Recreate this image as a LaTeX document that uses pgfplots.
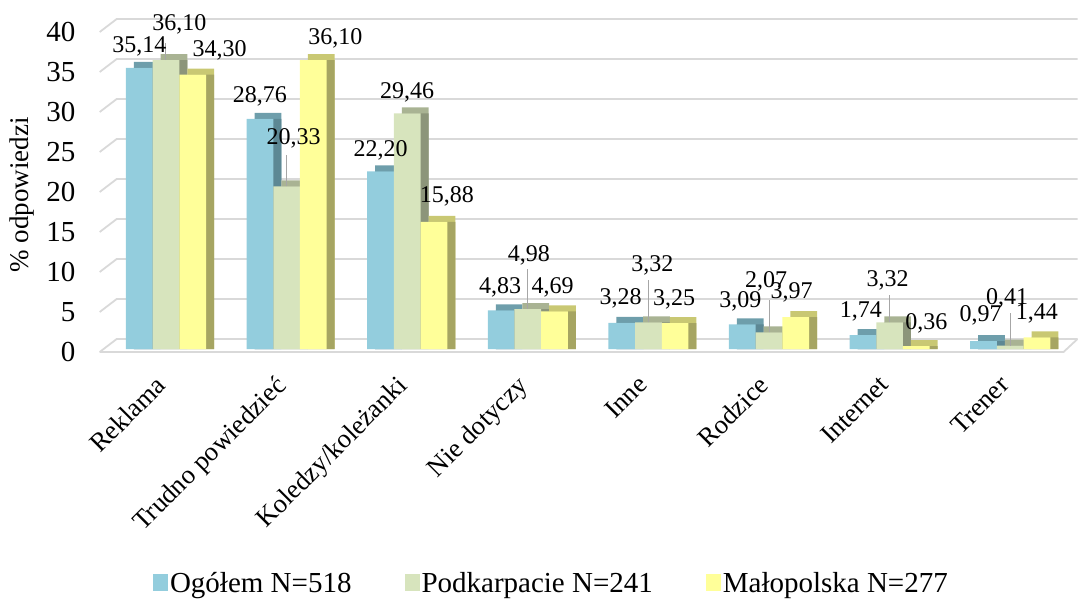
\documentclass[border=0pt]{standalone}
\usepackage{pgfplots}
\pgfplotsset{compat=1.18}
\usepackage{pgfplotstable}
\usepackage{fontspec}
\setmainfont{Liberation Serif}

% front, top and side shades of the three series
\definecolor{blueF}{HTML}{93CDDD}
\definecolor{blueT}{HTML}{6E9EAB}
\definecolor{blueS}{HTML}{5D8894}
\definecolor{greenF}{HTML}{D7E4BD}
\definecolor{greenT}{HTML}{A9B393}
\definecolor{greenS}{HTML}{8C957A}
\definecolor{yellowF}{HTML}{FFFF99}
\definecolor{yellowT}{HTML}{C9C873}
\definecolor{yellowS}{HTML}{A6A562}
\definecolor{gridc}{HTML}{D9D9D9}

% x = category index, y = percent, dx/dy = label offset (bp), ld = leader length
\pgfplotstableread{
x y dx dy
0 35.14 0 21
1 28.76 0 23
2 22.20 0 21
3 4.83 -1 23
4 3.28 -1 24
5 3.09 -2 23
6 1.74 -2 24
7 0.97 -3 26
}\ogolem

\pgfplotstableread{
x y dx dy ld
0 36.10 13.5 36 2.1
1 20.33 7 48 3.9
2 29.46 0 21 0
3 4.98 1 54 5.0
4 3.32 4 57 5.25
5 2.07 -3 51 4.1
6 3.32 -2 42 3.4
7 0.41 -3 47 4.1
}\podkarpacie

\pgfplotstableread{
x y dx dy
0 34.30 27 24
1 36.10 22 22
2 15.88 13 26
3 4.69 -2 24
4 3.25 -1 24
5 3.97 -4 25
6 0.36 10 23
7 1.44 0 24
}\malopolska

\pgfplotsset{
  bar3d/.style={ybar, bar width=26.7bp, draw=none},
  vlabels/.style={ybar, bar width=26.7bp, draw=none, fill=none, forget plot,
    visualization depends on={\thisrow{dx} \as \dx},
    visualization depends on={\thisrow{dy} \as \dy},
    nodes near coords,
    nodes near coords style={anchor=center, inner sep=0pt, xshift={\dx bp+(#1)}, yshift=\dy bp,
      font=\fontsize{24bp}{26bp}\selectfont,
      /pgf/number format/.cd, use comma, fixed, fixed zerofill, precision=2}},
}

\begin{document}
\begin{tikzpicture}
\begin{axis}[
  x=120.6bp, y=8bp,
  xmin=-0.5, xmax=7.5, ymin=0, ymax=40,
  enlargelimits=false, clip=false,
  axis line style={draw=none},
  major tick length=0pt,
  xtick={0,...,7},
  xticklabels={Reklama, Trudno powiedzieć, Koledzy/koleżanki, Nie dotyczy, Inne, Rodzice, Internet, Trener},
  ytick={0,5,...,40},
  /pgf/number format/assume math mode=true,
  yticklabel style={font=\fontsize{29bp}{32bp}\selectfont, anchor=east, inner sep=0pt, xshift=-30bp, yshift=-3bp},
  xticklabel style={xshift=-12bp, yshift=-25bp, rotate=45, anchor=north east, inner sep=0pt, font=\fontsize{26.5bp}{29bp}\selectfont},
  ylabel={\% odpowiedzi},
  every axis y label/.style={at={(axis description cs:-0.0868,0.481)}, rotate=90, anchor=center, font=\fontsize{27bp}{30bp}\selectfont},
  legend style={at={(axis description cs:0.462,-0.731)}, anchor=center, draw=none, fill=none,
    font=\fontsize{29bp}{32bp}\selectfont, legend columns=3,
    /tikz/every even column/.append style={column sep=51bp}},
]
\coordinate (O) at (axis cs:-0.5,0);

% back wall, left wall and floor of the 3-D frame
\pgfplotsinvokeforeach{0,5,...,40}{
  \draw[gridc, line width=1.8bp] ([shift={(-6bp,-3bp)}]axis cs:-0.5,#1) -- ([shift={(11bp,10bp)}]axis cs:-0.5,#1) -- ([shift={(7bp,10bp)}]axis cs:7.5,#1);
}
\draw[gridc, line width=1.8bp] ([shift={(-6bp,-3bp)}]axis cs:-0.5,0) -- ([shift={(-7bp,-3bp)}]axis cs:7.5,0) -- ([shift={(7bp,10bp)}]axis cs:7.5,0);

% Ogółem: top face, side face, front face
\addplot[bar3d, bar shift=-18.7bp, fill=blueT, forget plot] table[x=x, y expr=\thisrow{y}+0.75]{\ogolem};
\addplot[bar3d, bar shift=-18.7bp, fill=blueS, forget plot] table[x=x, y=y]{\ogolem};
\addplot[bar3d, bar shift=-26.7bp, fill=blueF,
  legend image code/.code={\fill[blueF] (0bp,-8.5bp) rectangle (15bp,8.5bp);}] table[x=x, y=y]{\ogolem};
\addlegendentry{Ogółem N=518}

% Podkarpacie
\addplot[bar3d, bar shift=8bp, fill=greenT, forget plot] table[x=x, y expr=\thisrow{y}+0.75]{\podkarpacie};
\addplot[bar3d, bar shift=8bp, fill=greenS, forget plot] table[x=x, y=y]{\podkarpacie};
\addplot[bar3d, bar shift=0bp, fill=greenF,
  legend image code/.code={\fill[greenF] (0bp,-8.5bp) rectangle (15bp,8.5bp);}] table[x=x, y=y]{\podkarpacie};
\addlegendentry{Podkarpacie N=241}

% Małopolska
\addplot[bar3d, bar shift=34.7bp, fill=yellowT, forget plot] table[x=x, y expr=\thisrow{y}+0.75]{\malopolska};
\addplot[bar3d, bar shift=34.7bp, fill=yellowS, forget plot] table[x=x, y=y]{\malopolska};
\addplot[bar3d, bar shift=26.7bp, fill=yellowF,
  legend image code/.code={\fill[yellowF] (0bp,-8.5bp) rectangle (15bp,8.5bp);}] table[x=x, y=y]{\malopolska};
\addlegendentry{Małopolska N=277}

% leader lines of the Podkarpacie labels
\addplot[ybar, bar width=26.7bp, bar shift=0bp, draw=none, fill=none, forget plot,
  error bars/.cd, y dir=plus, y explicit, error mark=none,
  error bar style={draw=black!35, line width=1bp}]
  table[x=x, y=y, y error=ld]{\podkarpacie};

% value labels
\addplot[vlabels={-26.7bp}] table[x=x, y=y]{\ogolem};
\addplot[vlabels={0bp}] table[x=x, y=y]{\podkarpacie};
\addplot[vlabels={26.7bp}] table[x=x, y=y]{\malopolska};
\end{axis}
\pgfresetboundingbox
\path ([shift={(-105.7bp,-250bp)}]O) rectangle ([shift={(972.3bp,349bp)}]O);
\end{tikzpicture}
\end{document}
